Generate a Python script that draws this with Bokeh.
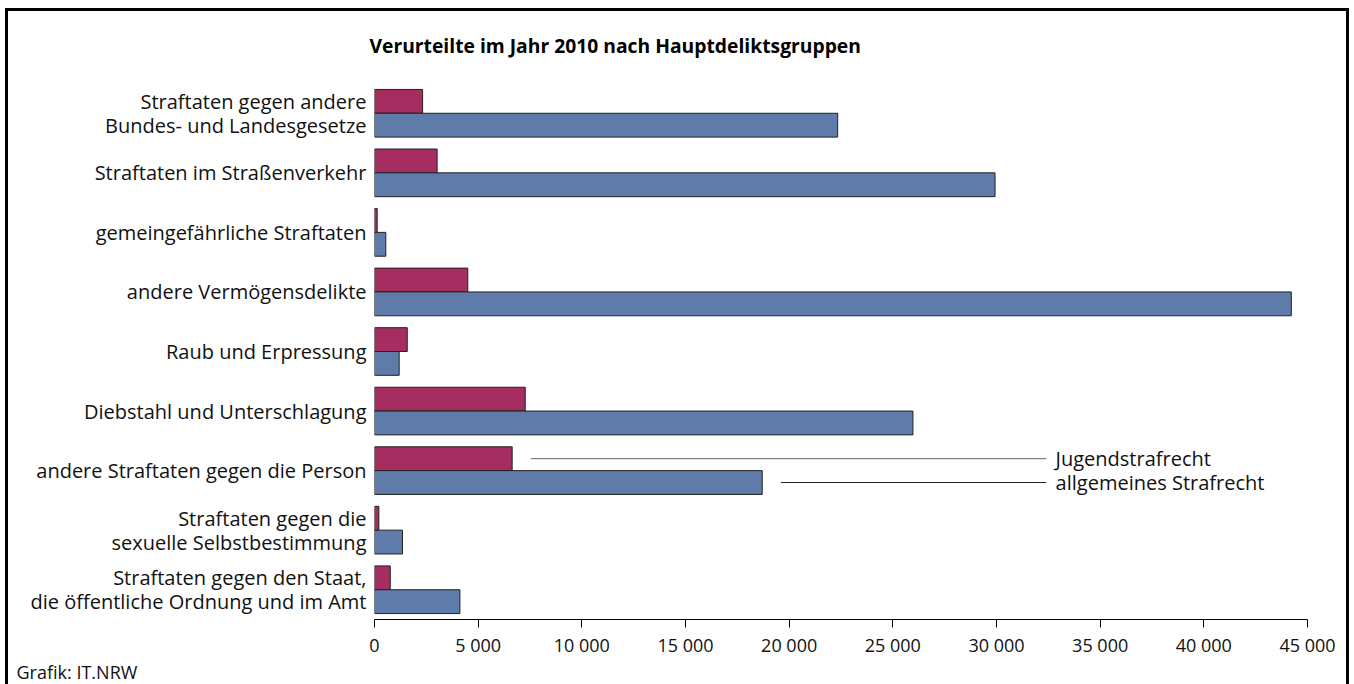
from bokeh.plotting import figure
from bokeh.models import FixedTicker, Title, ColumnDataSource
from bokeh.core.properties import value
from bokeh.embed import file_html
from bokeh.resources import INLINE

# ---------------- data ----------------
categories = [
    "Straftaten gegen andere\nBundes- und Landesgesetze",
    "Straftaten im Straßenverkehr",
    "gemeingefährliche Straftaten",
    "andere Vermögensdelikte",
    "Raub und Erpressung",
    "Diebstahl und Unterschlagung",
    "andere Straftaten gegen die Person",
    "Straftaten gegen die\nsexuelle Selbstbestimmung",
    "Straftaten gegen den Staat,\ndie öffentliche Ordnung und im Amt",
]
jugendstrafrecht = [2320, 3020, 130, 4500, 1580, 7270, 6640, 210, 760]
allgemeines_strafrecht = [22340, 29930, 545, 44220, 1190, 25970, 18700, 1350, 4120]
series_names = ["Jugendstrafrecht", "allgemeines Strafrecht"]
x_ticks = [0, 5000, 10000, 15000, 20000, 25000, 30000, 35000, 40000, 45000]
x_tick_labels = ["0", "5 000", "10 000", "15 000", "20 000", "25 000",
                 "30 000", "35 000", "40 000", "45 000"]
title_text = "Verurteilte im Jahr 2010 nach Hauptdeliktsgruppen"
source_text = "Grafik: IT.NRW"

# ---------------- style ----------------
FONT = "Open Sans"
C_J = "#A52D5F"
C_A = "#5E7BA9"
n = len(categories)
STEP = 10
OFF = 2
centers = [STEP * (n - 1 - i) for i in range(n)]

p = figure(width=1354, height=684, output_backend="svg", toolbar_location=None,
           x_range=(0, 45000), y_range=(-STEP / 2, STEP * (n - 1) + STEP / 2),
           min_border_left=374, min_border_right=47, min_border_top=83,
           min_border_bottom=65)
p.outline_line_color = None
p.xgrid.visible = False
p.ygrid.visible = False
p.background_fill_color = "white"
p.border_fill_color = None
p.styles = {
    "background-color": "white",
    "box-shadow": ("inset 5px 0 0 0 #fff, inset 0 8px 0 0 #fff, inset -5px 0 0 0 #fff, "
                   "inset 8px 0 0 0 #000, inset 0 11px 0 0 #000, inset -8px 0 0 0 #000"),
}

src_j = ColumnDataSource(dict(y=[c + OFF for c in centers], v=jugendstrafrecht))
src_a = ColumnDataSource(dict(y=[c - OFF for c in centers], v=allgemeines_strafrecht))
p.hbar(y="y", left=0, right="v", height=2 * OFF, source=src_j,
       fill_color=C_J, line_color="#222222", line_width=1)
p.hbar(y="y", left=0, right="v", height=2 * OFF, source=src_a,
       fill_color=C_A, line_color="#222222", line_width=1)

# x axis
xa = p.xaxis[0]
xa.ticker = FixedTicker(ticks=x_ticks)
xa.major_label_overrides = {t: l for t, l in zip(x_ticks, x_tick_labels)}
xa.major_label_text_font = FONT
xa.major_label_text_font_size = "18px"
xa.major_label_text_color = "#111111"
xa.axis_line_color = "black"
xa.major_tick_line_color = "black"
xa.major_tick_in = 0
xa.major_tick_out = 8
xa.minor_tick_line_color = None
xa.major_label_standoff = 5

# y axis: one tick per label line
ticks = []
overrides = {}
for c, lab in zip(centers, categories):
    lines = lab.split("\n")
    if len(lines) == 2:
        ticks += [c + OFF, c - OFF]
        overrides[c + OFF] = lines[0]
        overrides[c - OFF] = lines[1]
    else:
        ticks.append(c)
        overrides[c] = lab
ya = p.yaxis[0]
ya.ticker = FixedTicker(ticks=ticks)
ya.major_label_overrides = overrides
ya.major_label_text_font = FONT
ya.major_label_text_font_size = "20px"
ya.major_label_text_color = "#111111"
ya.axis_line_color = None
ya.major_tick_line_color = None
ya.minor_tick_line_color = None
ya.major_label_standoff = 2

# legend lines (pointing to the "andere Straftaten gegen die Person" bars)
k = 6
gap = 900
x_end = 32400
x_txt = 32850
p.segment(x0=[jugendstrafrecht[k] + gap], x1=[x_end], y0=[centers[k] + OFF], y1=[centers[k] + OFF],
          line_color="#666666", line_width=1)
p.segment(x0=[allgemeines_strafrecht[k] + gap], x1=[x_end], y0=[centers[k] - OFF], y1=[centers[k] - OFF],
          line_color="#222222", line_width=1)
p.text(x=[x_txt, x_txt], y=[centers[k] + OFF, centers[k] - OFF], text=series_names,
       text_font=value(FONT), text_font_size="20px", text_color="#111111",
       text_align="left", text_baseline="middle")

# title
p.title.text = title_text
p.title.align = "left"
p.title.offset = -5
p.title.standoff = 49
p.title.text_font = FONT
p.title.text_font_size = "19.3px"
p.title.text_font_style = "bold"
p.title.text_color = "black"

# source note
p.add_layout(Title(text=source_text, align="left", offset=-358, standoff=-3,
                   text_font=FONT, text_font_size="18px", text_font_style="normal",
                   text_color="#111111", text_line_height=1.0), "below")

open("out.html", "w").write(file_html(p, INLINE))
